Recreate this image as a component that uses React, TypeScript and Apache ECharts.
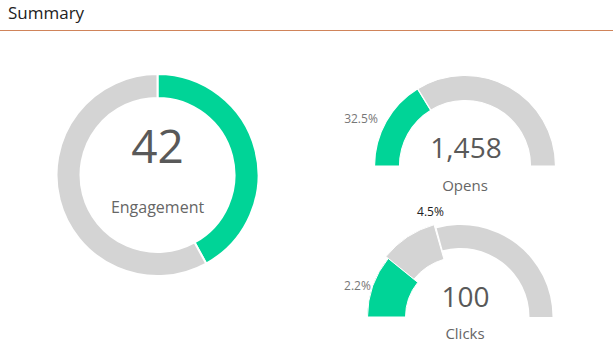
import React, { useEffect, useRef } from "react";
import * as echarts from "echarts";

const titleText = "Summary";
const gaugeNames = ["Engagement", "Opens", "Clicks"];
const gaugeValues = [42, 1458, 100];
const engagementShare = [42, 58];
const opensShare = [32.5, 67.5];
const opensLabels = ["32.5%"];
// arc widths (degrees of the half gauge)
const clicksArcDeg = [39, 35, 1, 105];
const clicksLabels = ["2.2%", "4.5%"];

const GREEN = "#00d497";
const GRAY = "#d4d4d4";
const FONT = "'Open Sans', 'Noto Sans', sans-serif";

export default function App() {
  const ref = useRef<HTMLDivElement>(null);
  useEffect(() => {
    if (!ref.current) return;
    const chart = echarts.init(ref.current, null, { renderer: "svg" });

    const cClicks = [460.5, 317];
    const a0 = 180;
    const a1 = a0 - clicksArcDeg[0];
    const a2 = a1 - clicksArcDeg[1];
    const a3 = a2 - clicksArcDeg[2];

    const option: any = {
      animation: false,
      graphic: [
        {
          type: "text",
          x: 8,
          y: 12,
          style: { text: titleText, font: `17px ${FONT}`, fill: "#222", verticalAlign: "middle" },
        },
        {
          type: "line",
          shape: { x1: 0, y1: 30.5, x2: 613, y2: 30.5 },
          style: { stroke: "#d0845a", lineWidth: 1 },
        },
        {
          type: "text",
          x: 157.5,
          y: 145,
          style: { text: gaugeValues[0].toLocaleString("en-US"), font: `46px ${FONT}`, fill: "#595959", align: "center", verticalAlign: "middle" },
        },
        {
          type: "text",
          x: 157.5,
          y: 207,
          style: { text: gaugeNames[0], font: `16px ${FONT}`, fill: "#666", align: "center", verticalAlign: "middle" },
        },
        {
          type: "text",
          x: 466,
          y: 147,
          style: { text: gaugeValues[1].toLocaleString("en-US"), font: `28px ${FONT}`, fill: "#595959", align: "center", verticalAlign: "middle" },
        },
        {
          type: "text",
          x: 465,
          y: 185,
          style: { text: gaugeNames[1], font: `15px ${FONT}`, fill: "#666", align: "center", verticalAlign: "middle" },
        },
        {
          type: "text",
          x: 465.5,
          y: 296,
          style: { text: gaugeValues[2].toLocaleString("en-US"), font: `28px ${FONT}`, fill: "#595959", align: "center", verticalAlign: "middle" },
        },
        {
          type: "text",
          x: 465,
          y: 333,
          style: { text: gaugeNames[2], font: `15px ${FONT}`, fill: "#666", align: "center", verticalAlign: "middle" },
        },
        {
          type: "text",
          x: 430.5,
          y: 211,
          style: { text: clicksLabels[1], font: `12px ${FONT}`, fill: "#222", align: "center", verticalAlign: "middle" },
        },
      ],
      series: [
        {
          type: "pie",
          silent: true,
          center: [157.5, 175],
          radius: [77, 101],
          startAngle: 90,
          clockwise: true,
          avoidLabelOverlap: false,
          label: { show: false },
          labelLine: { show: false },
          itemStyle: { borderColor: "#fff", borderWidth: 2 },
          data: engagementShare.map((v, i) => ({ value: v, itemStyle: { color: i === 0 ? GREEN : GRAY } })),
        },
        {
          type: "pie",
          silent: true,
          center: [465, 166],
          radius: [65.5, 90.5],
          startAngle: 180,
          endAngle: 0,
          clockwise: true,
          avoidLabelOverlap: false,
          itemStyle: { borderColor: "#fff", borderWidth: 1.2 },
          label: {
            show: true,
            position: "outside",
            fontSize: 12,
            fontFamily: FONT,
            color: "#777",
            distanceToLabelLine: 3,
            formatter: (p: any) => opensLabels[p.dataIndex] ?? "",
          },
          labelLine: { show: false, length: 6, length2: 0 },
          data: opensShare.map((v, i) => ({ value: v, itemStyle: { color: i === 0 ? GREEN : GRAY } })),
        },
        // clicks: remaining arc
        {
          type: "pie",
          silent: true,
          center: cClicks,
          radius: [69, 92],
          startAngle: a3,
          endAngle: 0,
          clockwise: true,
          label: { show: false },
          labelLine: { show: false },
          data: [{ value: clicksArcDeg[3], itemStyle: { color: GRAY } }],
        },
        // clicks: highlighted second arc
        {
          type: "pie",
          silent: true,
          center: cClicks,
          radius: [60, 96],
          startAngle: a1,
          endAngle: a2,
          clockwise: true,
          label: { show: false },
          labelLine: { show: false },
          itemStyle: { borderColor: "#fff", borderWidth: 1 },
          data: [{ value: clicksArcDeg[1], itemStyle: { color: GRAY } }],
        },
        // clicks: green arc
        {
          type: "pie",
          silent: true,
          center: cClicks,
          radius: [55, 93],
          startAngle: a0,
          endAngle: a1,
          clockwise: true,
          avoidLabelOverlap: false,
          itemStyle: { borderColor: "#fff", borderWidth: 1 },
          label: {
            show: true,
            position: "outside",
            fontSize: 12,
            fontFamily: FONT,
            color: "#777",
            distanceToLabelLine: 2,
            formatter: () => clicksLabels[0],
          },
          labelLine: { show: false, length: 0, length2: 0 },
          data: [{ value: clicksArcDeg[0], itemStyle: { color: GREEN } }],
        },
      ],
    };
    chart.setOption(option);
    return () => chart.dispose();
  }, []);
  return (
    <div
      ref={ref}
      style={{ position: "fixed", left: 0, top: 0, width: 613, height: 353, background: "#fff" }}
    />
  );
}
